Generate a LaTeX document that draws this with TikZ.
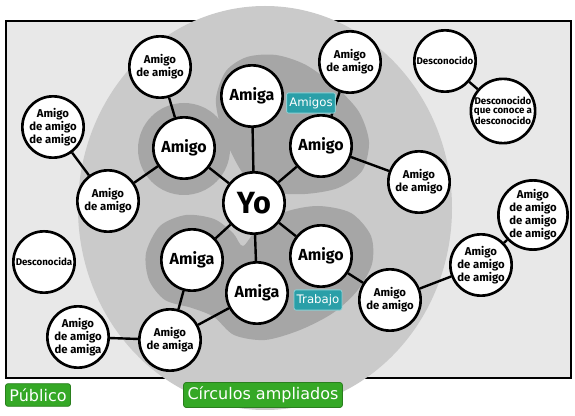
\documentclass[tikz,border=0pt]{standalone}
\usepackage{fontspec}
\setmainfont{Fira Sans}
\newfontfamily\tagfont{DejaVu Sans}
\usepackage{tikz}
\usetikzlibrary{positioning}

\definecolor{publico}{HTML}{E8E8E8}
\definecolor{ampliado}{HTML}{CACACA}
\definecolor{cercano}{HTML}{A6A6A6}
\definecolor{verde}{HTML}{35A826}
\definecolor{verdeborde}{HTML}{2A7F1E}
\definecolor{turquesa}{HTML}{2A9FA8}
\definecolor{turquesaborde}{HTML}{8FD0D4}

\begin{document}
\begin{tikzpicture}[x=0.75pt,y=-0.75pt,
  persona/.style={circle,draw,fill=white,line width=2pt,minimum size=46pt,inner sep=0pt,align=center,
    font=\bfseries\fontsize{12}{12}\selectfont},
  lejos/.style={persona,font=\bfseries\fontsize{8.5}{8}\selectfont},
  extrano/.style={persona,font=\bfseries\fontsize{7.3}{6.3}\selectfont},
  grupo/.style={fill=turquesa,draw=turquesaborde,line width=0.6pt,rounded corners=1.5pt,text=white,
    inner xsep=2pt,minimum height=12.5pt,font=\tagfont\fontsize{8.8}{8.8}\selectfont},
  leyenda/.style={fill=verde,draw=verdeborde,line width=0.6pt,rounded corners=2pt,text=white,
    inner xsep=3pt,minimum height=17pt,font=\tagfont\fontsize{12}{12}\selectfont},
  lazo/.style={line width=1.8pt}]
  \useasboundingbox (0,0) rectangle (575,416);

  % zonas
  \draw[line width=2pt,fill=publico] (6,21) rectangle (571,378);
  \fill[ampliado] (265,208) ellipse (187 and 202);
  \fill[cercano] (184,149) circle (46);
  \fill[cercano] plot[smooth cycle] coordinates {(216,98) (226,71) (247,57) (276,55) (306,65)
    (336,87) (359,112) (369,142) (362,171) (338,188) (305,194) (273,192) (246,177) (230,150) (220,124)};
  \fill[cercano] plot[smooth cycle] coordinates {(160,226) (186,215) (214,219) (233,233) (243,246)
    (258,228) (285,212) (318,206) (351,213) (371,236) (372,264) (357,291) (333,313) (300,330)
    (265,340) (234,335) (214,317) (192,308) (165,300) (149,280) (146,253)};

  % personas
  \node[persona,font=\bfseries\fontsize{23}{23}\selectfont] (yo) at (254,203) {Yo};
  \node[persona] (amigaA) at (252,96) {Amiga};
  \node[persona] (amigoR) at (321,146) {Amigo};
  \node[persona] (amigoL) at (184,148) {Amigo};
  \node[persona] (amigaBL) at (192,260) {Amiga};
  \node[persona] (amigaB) at (257,293) {Amiga};
  \node[persona] (amigoBR) at (321,256) {Amigo};

  \node[lejos] (aaTL) at (160,67) {Amigo\\de amigo};
  \node[lejos] (aaaTL) at (53,127) {Amigo\\de amigo\\de amigo};
  \node[lejos] (aaL) at (108,201) {Amigo\\de amigo};
  \node[lejos] (aaTR) at (350,62) {Amigo\\de amigo};
  \node[lejos] (aaR) at (419,182) {Amigo\\de amigo};
  \node[lejos] (aaaaR) at (533,215) {Amigo\\de amigo\\de amigo\\de amigo};
  \node[lejos] (aaaR) at (481,265) {Amigo\\de amigo\\de amigo};
  \node[lejos] (aaBR) at (390,300) {Amigo\\de amigo};
  \node[lejos] (aamL) at (170,340) {Amigo\\de amiga};
  \node[lejos] (aaaL) at (78,337) {Amigo\\de amigo\\de amiga};

  \node[extrano] (desc) at (445,61) {Desconocido};
  \node[extrano] (descq) at (503,111) {Desconocido\\que conoce a\\desconocido};
  \node[extrano] (desca) at (44,262) {Desconocida};

  % lazos
  \draw[lazo] (yo) -- (amigaA);
  \draw[lazo] (yo) -- (amigoR);
  \draw[lazo] (yo) -- (amigoL);
  \draw[lazo] (yo) -- (amigaBL);
  \draw[lazo] (yo) -- (amigaB);
  \draw[lazo] (yo) -- (amigoBR);
  \draw[lazo] (amigoL) -- (aaTL);
  \draw[lazo] (amigoL) -- (aaL);
  \draw[lazo] (aaL) -- (aaaTL);
  \draw[lazo] (amigoR) -- (aaTR);
  \draw[lazo] (amigoR) -- (aaR);
  \draw[lazo] (amigaBL) -- (aamL);
  \draw[lazo] (amigaB) -- (aamL);
  \draw[lazo] (aamL) -- (aaaL);
  \draw[lazo] (amigoBR) -- (aaBR);
  \draw[lazo] (aaBR) -- (aaaR);
  \draw[lazo] (aaaR) -- (aaaaR);
  \draw[lazo] (desc) -- (descq);

  % etiquetas
  \node[grupo] (amigos) at (311,103) {Amigos};
  \node[grupo] (trabajo) at (318,300) {Trabajo};
  \node[leyenda] (publicoTag) at (38,395) {Público};
  \node[leyenda] (ampliadosTag) at (263,395) {Círculos ampliados};
\end{tikzpicture}
\end{document}
